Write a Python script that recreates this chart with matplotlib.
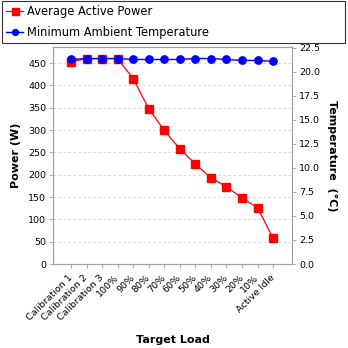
import numpy as np
import matplotlib
matplotlib.use('Agg')
import matplotlib.pyplot as plt

# chart data
loads = ['Calibration 1', 'Calibration 2', 'Calibration 3', '100%', '90%',
         '80%', '70%', '60%', '50%', '40%', '30%', '20%', '10%', 'Active Idle']
power = [453, 460, 460, 460, 415, 348, 299, 258, 224, 193, 173, 148, 126, 58]
temperature = [21.3, 21.4, 21.4, 21.4, 21.3, 21.3, 21.3, 21.3, 21.4, 21.4,
               21.3, 21.2, 21.2, 21.1]
power_ticks = list(range(0, 451, 50))
temp_ticks = [0.0, 2.5, 5.0, 7.5, 10.0, 12.5, 15.0, 17.5, 20.0, 22.5]

plt.rcParams['font.family'] = 'DejaVu Sans'
edge = '#a0a0a0'

fig = plt.figure(figsize=(3.48, 3.48), dpi=100)
ax = fig.add_axes([53 / 348, 84 / 348, 239 / 348, 217 / 348])
ax2 = ax.twinx()

x = np.arange(len(loads))
l1, = ax.plot(x, power, color='#ff0000', lw=0.9, marker='s', ms=6.3,
              label='Average Active Power')
l2, = ax2.plot(x, temperature, color='#0000ff', lw=1.0, marker='o', ms=5.3,
               label='Minimum Ambient Temperature')

ax.set_xlim(-1.16, len(loads) - 1 + 1.22)
ax.set_ylim(0, 486)
ax2.set_ylim(0, 22.6)
ax.set_yticks(power_ticks)
ax2.set_yticks(temp_ticks)
ax2.set_yticklabels(['%.1f' % t for t in temp_ticks])
ax.set_xticks(x)
ax.set_xticklabels(loads, rotation=45, ha='right', va='center',
                   rotation_mode='anchor')

ax.grid(axis='y', color='#d0d0d0', ls=(0, (3, 3)), lw=0.6)
ax.set_axisbelow(True)

for a in (ax, ax2):
    for s in a.spines.values():
        s.set_color(edge)
        s.set_linewidth(0.8)
    a.tick_params(labelsize=6.8, color=edge, length=3, width=0.6, pad=2)
ax.tick_params(axis='x', pad=6)

ax.set_xlabel('Target Load', fontsize=8, fontweight='bold', labelpad=9)
ax.set_ylabel('Power (W)', fontsize=8, fontweight='bold', labelpad=5)
ax2.set_ylabel('Temperature  (\u00b0C)', fontsize=8, fontweight='bold',
               rotation=-90, labelpad=12)

# legend box across the top of the figure
leg = fig.legend(handles=[l1, l2], loc='upper left',
                 bbox_to_anchor=(2 / 348, 1 - 42 / 348, 343 / 348, 41 / 348),
                 mode='expand', borderaxespad=0, fontsize=8.3, frameon=True,
                 fancybox=False, handlelength=1.5, handletextpad=0.3,
                 borderpad=0.35, labelspacing=0.7, markerscale=0.8)
leg.get_frame().set_edgecolor('black')
leg.get_frame().set_linewidth(0.8)

fig.savefig('out.png', dpi=100)
